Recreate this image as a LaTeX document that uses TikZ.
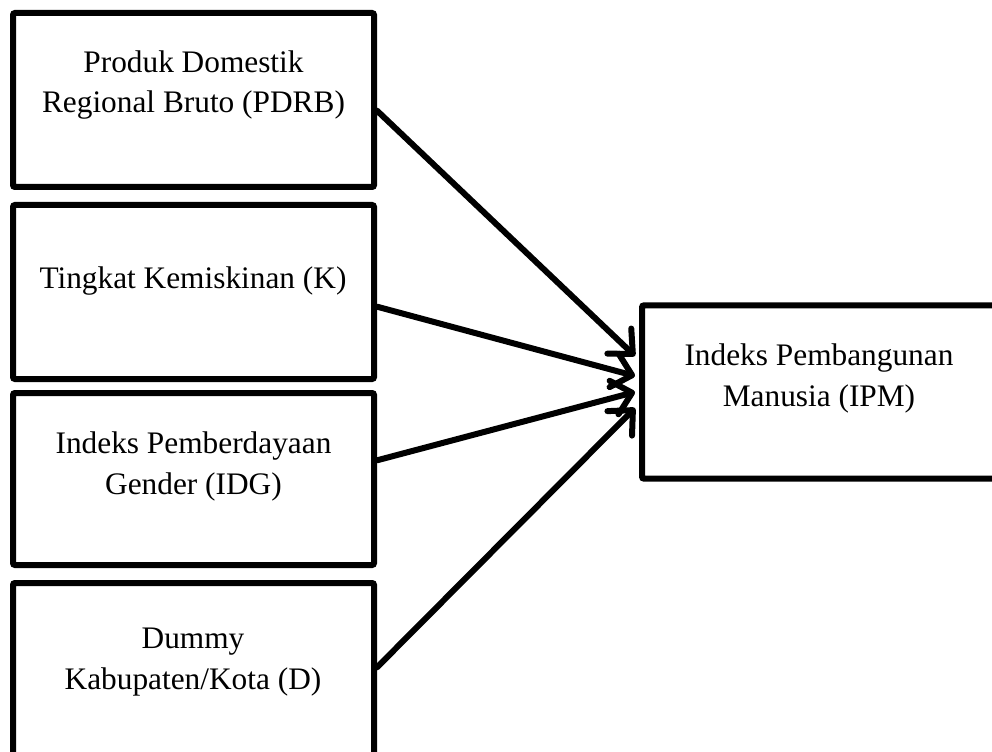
\documentclass[tikz,border=0pt]{standalone}
\usepackage{fontspec}
\setmainfont{Liberation Serif}
\usetikzlibrary{arrows.meta}
\begin{document}
\begin{tikzpicture}[x=0.75pt,y=-0.75pt,
  box/.style={draw=black,line width=4.5pt,rounded corners=1.5pt,fill=white,inner sep=0pt,minimum width=#1},
  box/.default=270.75pt,
  lbl/.style={font=\fontsize{23.5}{30.5}\selectfont,align=center,anchor=base,inner sep=0pt},
  conn/.style={line width=4.5pt,line cap=round,-{Straight Barb[length=14pt,width=26pt,line cap=round,line join=round]}}
]
\useasboundingbox (0,0) rectangle (992,752);
\node[box,minimum height=130.5pt] (b1) at (193.5,100) {};
\node[box,minimum height=130.5pt] (b2) at (193.5,292) {};
\node[box,minimum height=129pt] (b3) at (193.5,479) {};
\node[box,minimum height=130.5pt] (b4) at (193.5,670) {};
\node[box=264.75pt,minimum height=130pt] (r) at (818.5,392) {};

\node[lbl] (t1) at (193.5,113) {Produk Domestik\\Regional Bruto (PDRB)};
\node[lbl] (t2) at (193,288) {Tingkat Kemiskinan (K)};
\node[lbl] (t3) at (193.5,494) {Indeks Pemberdayaan\\Gender (IDG)};
\node[lbl] (t4) at (193,689) {Dummy\\Kabupaten/Kota (D)};
\node[lbl] (tr) at (819,406) {Indeks Pembangunan\\Manusia (IPM)};

\draw[conn] ([yshift=-8pt]b1.east) -- ([xshift=-3pt,yshift=27pt]r.west);
\draw[conn] ([yshift=-11pt]b2.east) -- ([xshift=-3pt,yshift=12pt]r.west);
\draw[conn] ([yshift=14pt]b3.east) -- ([xshift=-3pt,yshift=0pt]r.west);
\draw[conn] ([yshift=2pt]b4.east) -- ([xshift=-3pt,yshift=-12pt]r.west);
\end{tikzpicture}
\end{document}
